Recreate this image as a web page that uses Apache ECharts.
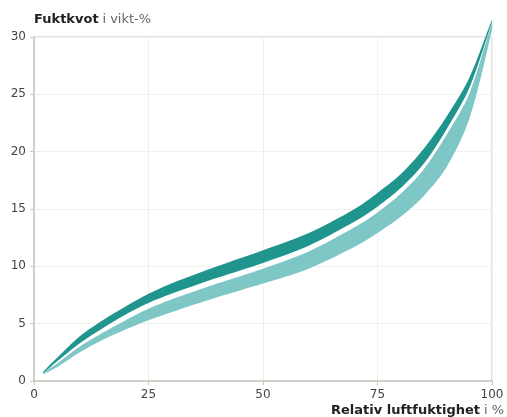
<!DOCTYPE html>
<html>
<head>
<meta charset="utf-8">
<script src="https://cdn.jsdelivr.net/npm/echarts@6/dist/echarts.min.js"></script>
<style>
  html, body { margin: 0; padding: 0; background: #fff; }
  #chart { width: 507px; height: 417px; }
</style>
</head>
<body>
<div id="chart"></div>
<script>
// relativ luftfuktighet (%)
const rh = [2, 5, 10, 15, 20, 25, 30, 40, 50, 60, 70, 75, 80, 85, 90, 95, 100];
// mörkt band (övre kurvan)
const darkTop = [0.8, 2.0, 3.9, 5.3, 6.5, 7.6, 8.5, 10.0, 11.4, 12.9, 15.0, 16.4, 18.0, 20.2, 23.0, 26.4, 31.5];
const darkBot = [0.7, 1.7, 3.3, 4.6, 5.8, 6.8, 7.6, 9.0, 10.3, 11.8, 13.9, 15.2, 16.8, 18.9, 21.9, 25.5, 31.3];
// ljust band (undre kurvan)
const lightTop = [0.7, 1.5, 3.0, 4.2, 5.3, 6.3, 7.1, 8.5, 9.8, 11.3, 13.4, 14.7, 16.3, 18.4, 21.4, 25.0, 31.2];
const lightBot = [0.6, 1.2, 2.5, 3.6, 4.5, 5.3, 6.0, 7.3, 8.5, 9.8, 11.7, 12.9, 14.3, 16.1, 18.6, 22.8, 30.6];

const darkColor = '#1f958e';
const lightColor = '#7fc6c6';

let chart = echarts.init(document.getElementById('chart'));

// ett band ritas som en polygon: övre kant fram, undre kant tillbaka
function bandSeries(name, top, bot, color) {
  let data = rh.map((x, i) => [x, top[i], bot[i]]);
  return {
    name: name,
    type: 'custom',
    silent: true,
    clip: false,
    encode: { x: 0, y: [1, 2] },
    data: data,
    renderItem: function (params, api) {
      if (params.dataIndex !== 0) return null;
      let upper = data.map(d => api.coord([d[0], d[1]]));
      let lower = data.map(d => api.coord([d[0], d[2]])).reverse();
      return {
        type: 'polygon',
        shape: { points: upper.concat(lower), smooth: 0.3 },
        style: { fill: color, stroke: null }
      };
    }
  };
}

const nameRich = {
  b: { fontWeight: 'bold', fontSize: 13, color: '#222', fontFamily: 'DejaVu Sans' },
  n: { fontSize: 13, color: '#666', fontFamily: 'DejaVu Sans' }
};

let option = {
  backgroundColor: '#fff',
  animation: false,
  textStyle: { fontFamily: 'DejaVu Sans' },
  grid: {
    left: 34, right: 13, top: 37, bottom: 36,
    show: true, borderColor: '#c8c8c0', borderWidth: 1
  },
  xAxis: {
    type: 'value',
    min: 0, max: 100, interval: 25,
    name: '{b|Relativ luftfuktighet} {n|i %}',
    nameLocation: 'end',
    nameGap: 12,
    nameTextStyle: {
      align: 'right', verticalAlign: 'top', padding: [23, 0, 0, 0],
      rich: nameRich
    },
    axisLine: { show: true, lineStyle: { color: '#c8c8c0', width: 1.5 } },
    axisTick: { show: true, length: 4, lineStyle: { color: '#c8c8c0' } },
    axisLabel: { color: '#444', fontSize: 12, margin: 8 },
    splitLine: { show: true, lineStyle: { color: '#f0f0ec' } }
  },
  yAxis: {
    type: 'value',
    min: 0, max: 30, interval: 5,
    name: '{b|Fuktkvot} {n|i vikt-%}',
    nameLocation: 'end',
    nameGap: 11,
    nameTextStyle: {
      align: 'left',
      rich: nameRich
    },
    axisLine: { show: true, lineStyle: { color: '#c8c8c0', width: 1.5 } },
    axisTick: { show: true, length: 4, lineStyle: { color: '#c8c8c0' } },
    axisLabel: { color: '#444', fontSize: 12, margin: 8 },
    splitLine: { show: true, lineStyle: { color: '#f0f0ec' } }
  },
  series: [
    bandSeries('ljus', lightTop, lightBot, lightColor),
    bandSeries('mörk', darkTop, darkBot, darkColor)
  ]
};
chart.setOption(option);
</script>
</body>
</html>
